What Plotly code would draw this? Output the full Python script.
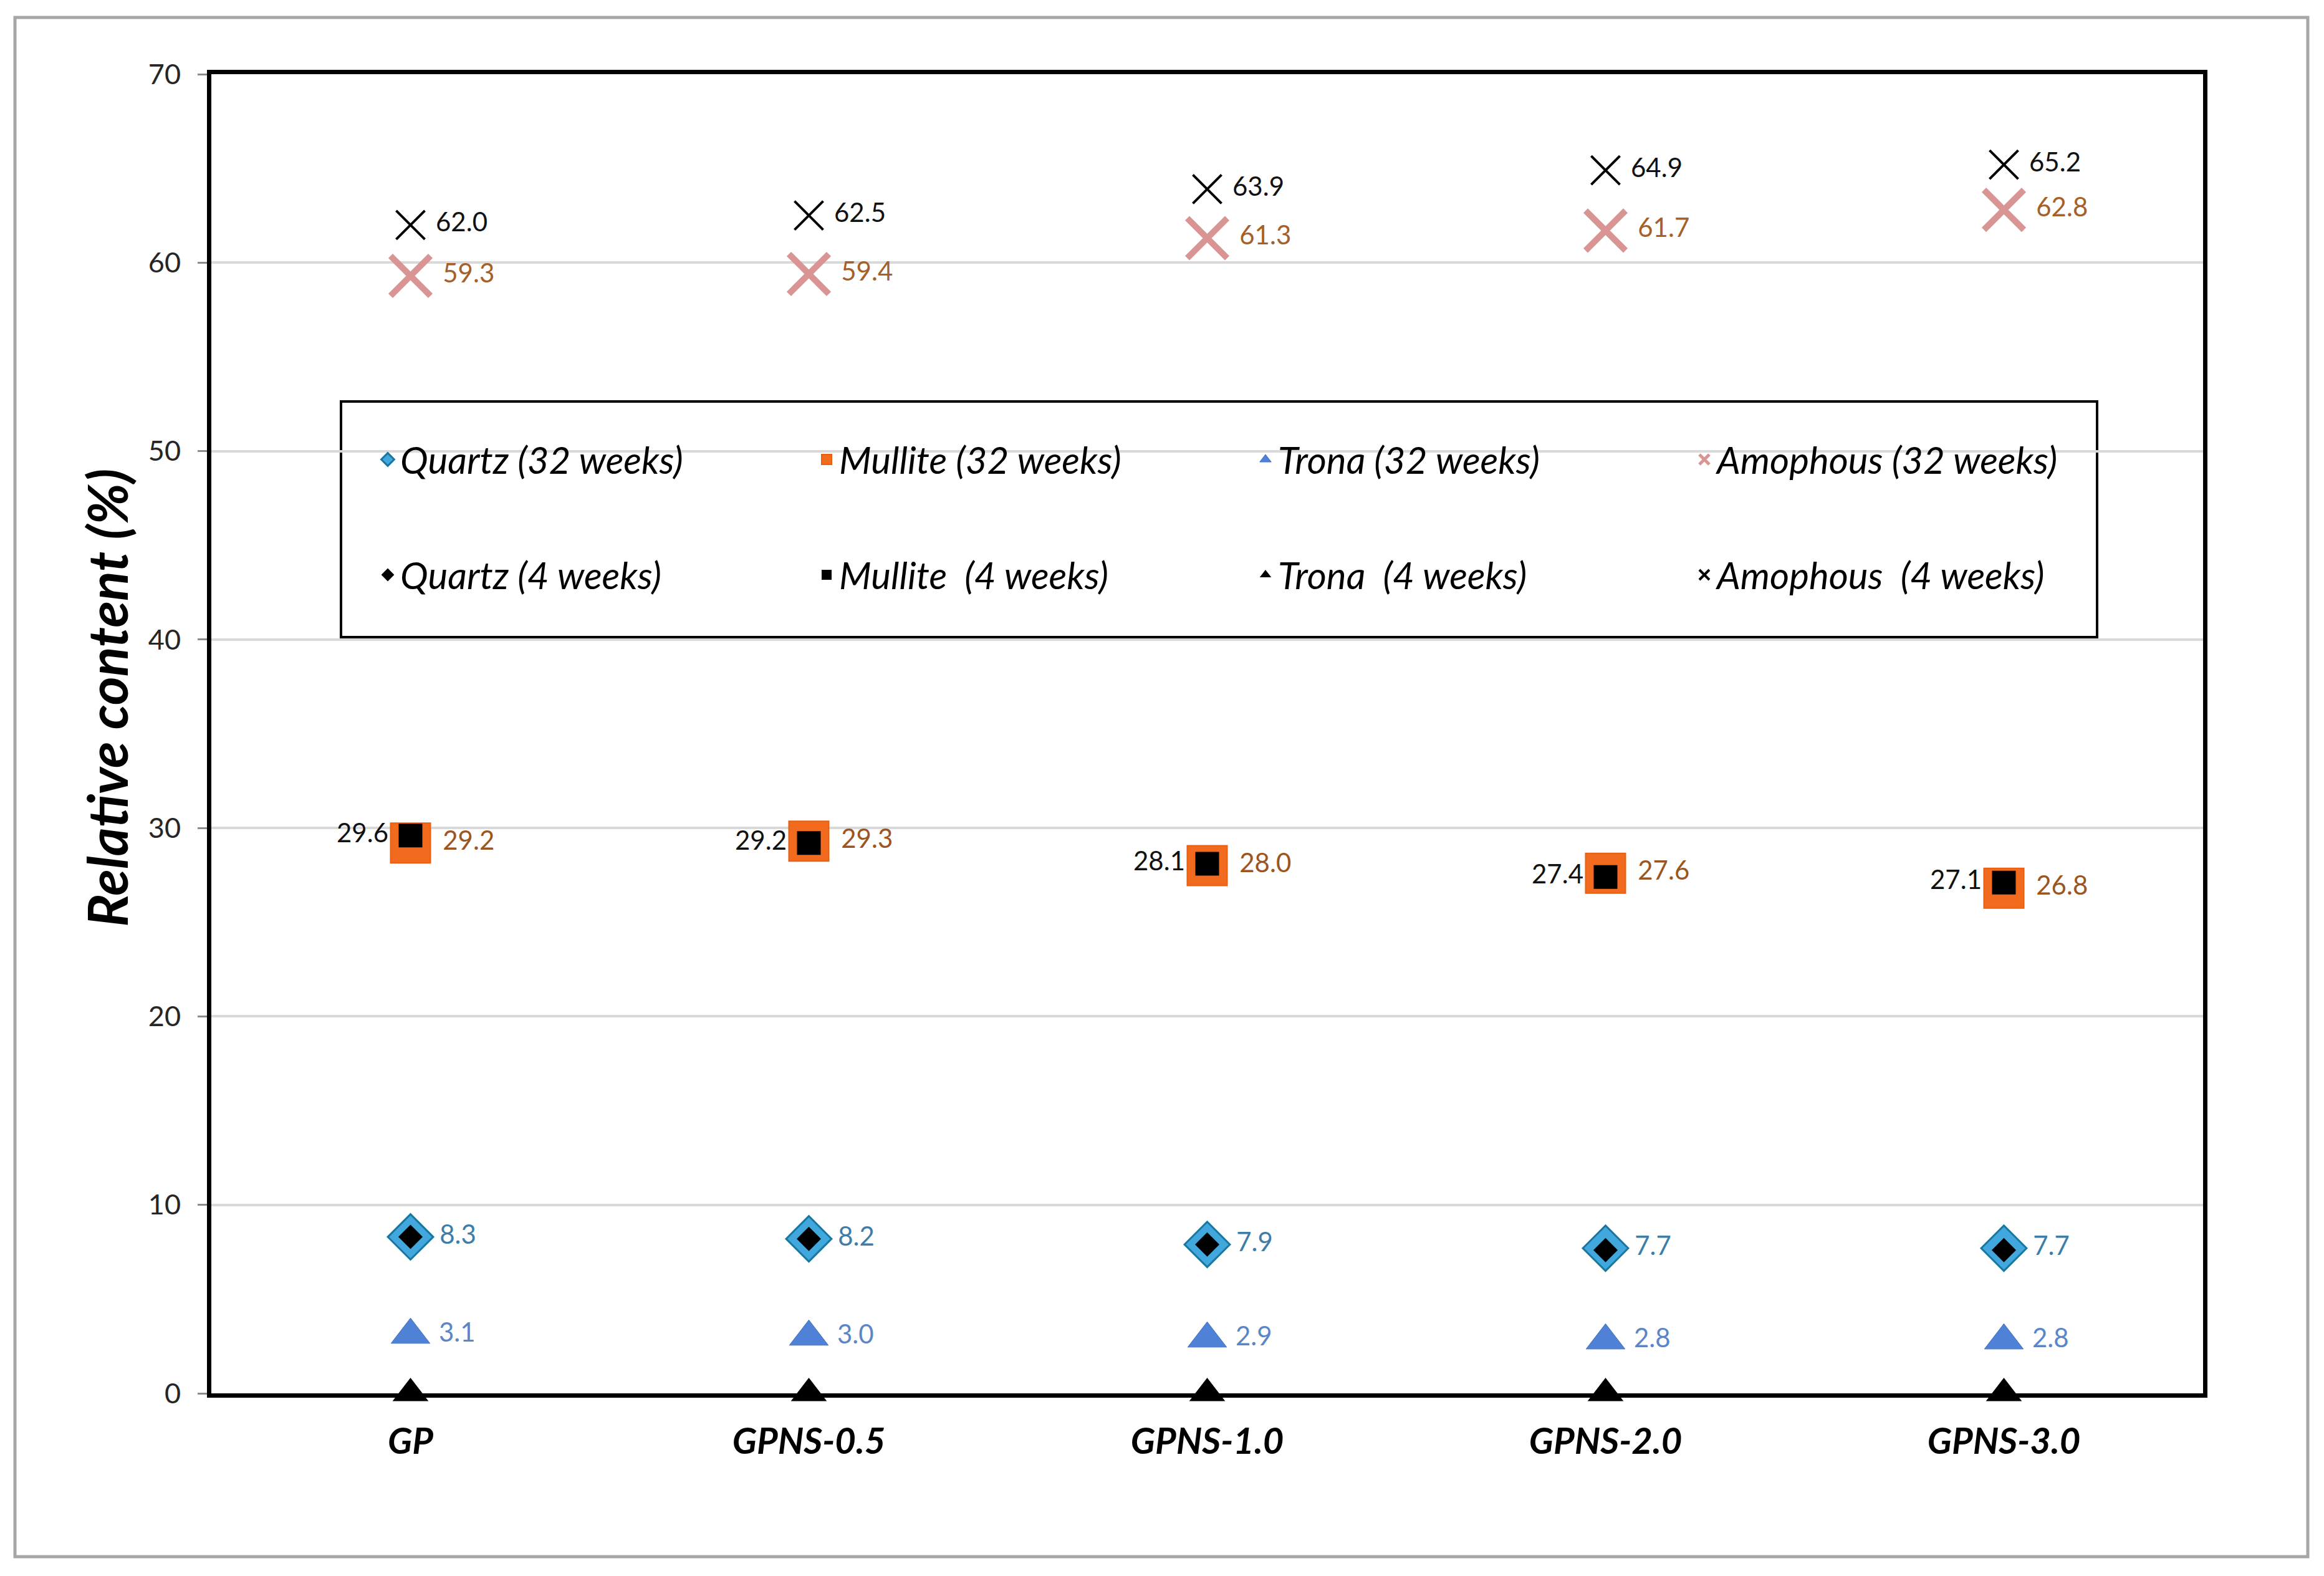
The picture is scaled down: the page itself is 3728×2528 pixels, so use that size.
import plotly.graph_objects as go

# ---------------- data ----------------
categories = ["GP", "GPNS-0.5", "GPNS-1.0", "GPNS-2.0", "GPNS-3.0"]

quartz_32 = [8.3, 8.2, 7.9, 7.7, 7.7]
mullite_32 = [29.2, 29.3, 28.0, 27.6, 26.8]
trona_32 = [3.1, 3.0, 2.9, 2.8, 2.8]
amorph_32 = [59.3, 59.4, 61.3, 61.7, 62.8]

quartz_4 = [8.3, 8.2, 7.9, 7.6, 7.6]
mullite_4 = [29.6, 29.2, 28.1, 27.4, 27.1]
trona_4 = [0.0, 0.0, 0.0, 0.0, 0.0]
amorph_4 = [62.0, 62.5, 63.9, 64.9, 65.2]

y_ticks = [0, 10, 20, 30, 40, 50, 60, 70]

names_32 = ["Quartz (32 weeks)", "Mullite (32 weeks)", "Trona (32 weeks)", "Amophous (32 weeks)"]
names_4 = ["Quartz (4 weeks)", "Mullite  (4 weeks)", "Trona  (4 weeks)", "Amophous  (4 weeks)"]

FONT = "Lato"
LABEL_SIZE = 42

fig = go.Figure()


def add(name, y, legend, symbol, size, color, line_color=None, line_width=0,
        text=False, text_pos="middle right", text_color="#000"):
    tmpl = None
    if text:
        tmpl = " %{y:.1f}" if text_pos.endswith("right") else "%{y:.1f} "
    fig.add_trace(go.Scatter(
        x=categories, y=y, name=name, legend=legend,
        mode="markers+text" if text else "markers",
        marker=dict(symbol=symbol, size=size, color=color,
                    line=dict(color=line_color if line_color else color, width=line_width)),
        texttemplate=tmpl,
        textposition=text_pos,
        textfont=dict(family=FONT, size=LABEL_SIZE, color=text_color),
        cliponaxis=False,
    ))


# 32-week series (drawn first, underneath)
add(names_32[0], quartz_32, "legend", "diamond", 56, "#41A7DD", "#17779F", 3,
    text=True, text_color="#3E7DA8")
add(names_32[1], mullite_32, "legend", "square", 64, "#F26A1E", "#E8600F", 2,
    text=True, text_color="#9B5523")
add(names_32[2], trona_32, "legend", "triangle-up", 54, "#4F81D6", "#3F6FC0", 1,
    text=True, text_color="#5A86C8")
add(names_32[3], amorph_32, "legend", "x-thin", 64, "#D99594", "#D99594", 10,
    text=True, text_color="#A5602A")

# 4-week series (on top)
add(names_4[0], quartz_4, "legend2", "diamond", 30, "#000000")
add(names_4[1], mullite_4, "legend2", "square", 38, "#000000",
    text=True, text_pos="middle left", text_color="#111111")
add(names_4[2], trona_4, "legend2", "triangle-up", 50, "#000000")
add(names_4[3], amorph_4, "legend2", "x-thin", 46, "#000000", "#000000", 4,
    text=True, text_color="#111111")

W, H = 3728, 2528
L, R, T, B = 331, 202, 111, 301
pw, ph = W - L - R, H - T - B


def px_x(p):
    return (p - L) / pw


def px_y(p):
    return (H - B - p) / ph


legend_font = dict(family=FONT, size=60, color="#000000", style="italic")
leg_common = dict(orientation="h", xanchor="left", yanchor="middle",
                  bgcolor="rgba(0,0,0,0)", borderwidth=0, font=legend_font,
                  entrywidth=659, entrywidthmode="pixels", itemsizing="trace",
                  traceorder="normal")

fig.update_layout(
    width=W, height=H,
    margin=dict(l=L, r=R, t=T, b=B),
    paper_bgcolor="white", plot_bgcolor="white",
    showlegend=True,
    legend=dict(x=px_x(594), y=px_y(729), **leg_common),
    legend2=dict(x=px_x(594), y=px_y(914), **leg_common),
    xaxis=dict(
        type="category", range=[-0.5, 4.5], layer="below traces",
        showgrid=False, showline=True, linecolor="#000000", linewidth=7, mirror=True,
        ticks="", ticklabelstandoff=20,
        tickfont=dict(family=FONT, size=58, color="#000000", weight="bold", style="italic"),
    ),
    yaxis=dict(
        range=[0, 70], tickvals=y_ticks, ticktext=[str(v) for v in y_ticks],
        layer="below traces",
        showgrid=True, gridcolor="#D9D9D9", gridwidth=4, zeroline=False,
        showline=True, linecolor="#000000", linewidth=7, mirror=True,
        ticks="outside", ticklen=15, tickwidth=3, tickcolor="#8C8C8C",
        ticklabelstandoff=18,
        tickfont=dict(family=FONT, size=45, color="#262626"),
    ),
    annotations=[
        dict(text="Relative content (%)", xref="paper", yref="paper",
             x=px_x(163), y=px_y(1112), xanchor="center", yanchor="middle",
             textangle=-90, showarrow=False,
             font=dict(family=FONT, size=88, color="#000000", weight="bold", style="italic")),
    ],
    shapes=[
        # legend box
        dict(type="rect", xref="paper", yref="paper",
             x0=px_x(539), x1=px_x(3356), y0=px_y(1014), y1=px_y(636),
             line=dict(color="#000000", width=4), fillcolor="white", layer="between"),
        # outer chart frame
        dict(type="rect", xref="paper", yref="paper",
             x0=px_x(16), x1=px_x(3694), y0=px_y(2489), y1=px_y(20),
             line=dict(color="#A6A6A6", width=5), fillcolor="rgba(0,0,0,0)", layer="above"),
    ],
)

fig.write_html("out.html")
